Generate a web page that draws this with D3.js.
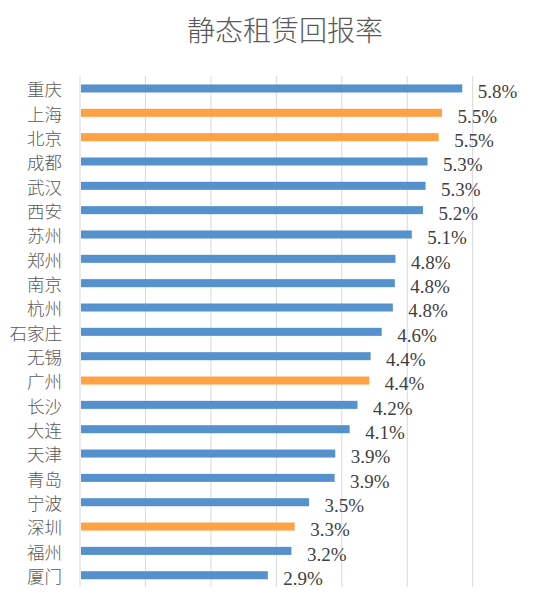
<!DOCTYPE html>
<html><head><meta charset="utf-8">
<script src="https://cdn.jsdelivr.net/npm/d3@7"></script>
<style>body{margin:0;background:#fff}</style>
</head><body><div id="chart"></div>
<script>
const title = "静态租赁回报率";
const cities = ["重庆","上海","北京","成都","武汉","西安","苏州","郑州","南京","杭州","石家庄","无锡","广州","长沙","大连","天津","青岛","宁波","深圳","福州","厦门"];
const values = [5.84,5.53,5.48,5.31,5.28,5.24,5.07,4.82,4.81,4.78,4.61,4.44,4.42,4.24,4.12,3.90,3.89,3.50,3.28,3.23,2.87];
const labels = ["5.8%","5.5%","5.5%","5.3%","5.3%","5.2%","5.1%","4.8%","4.8%","4.8%","4.6%","4.4%","4.4%","4.2%","4.1%","3.9%","3.9%","3.5%","3.3%","3.2%","2.9%"];
const highlighted = ["上海","北京","广州","深圳"];
const ticks = [0,1,2,3,4,5,6];

const W = 538, H = 604;
const svg = d3.select("#chart").append("svg").attr("width", W).attr("height", H);
const x = d3.scaleLinear().domain([0, 6]).range([80, 472.7]);
const y = d3.scaleBand().domain(cities).range([76.3, 587.4]).paddingInner(0.67).paddingOuter(0.335);

svg.append("text").attr("x", 285).attr("y", 40.5).attr("text-anchor", "middle")
  .attr("font-family", "Noto Sans CJK SC").attr("font-weight", 300).attr("font-size", 28)
  .attr("fill", "#595959").text(title);

svg.append("g").selectAll("line").data(ticks).join("line")
  .attr("x1", d => x(d)).attr("x2", d => x(d))
  .attr("y1", 76).attr("y2", 587)
  .attr("stroke", "#d9d9d9").attr("stroke-width", 1);

svg.append("g").selectAll("rect").data(cities).join("rect")
  .attr("x", x(0) + 1).attr("y", d => y(d))
  .attr("width", (d, i) => x(values[i]) - x(0) - 1)
  .attr("height", y.bandwidth())
  .attr("fill", d => highlighted.includes(d) ? "#FFA245" : "#5591CD");

svg.append("g").selectAll("text").data(cities).join("text")
  .attr("x", 62).attr("y", d => y(d) + y.bandwidth() / 2 + 1.5)
  .attr("dy", "0.36em").attr("text-anchor", "end")
  .attr("font-family", "Noto Sans CJK SC").attr("font-weight", 300).attr("font-size", 17.5)
  .attr("fill", "#595959").text(d => d);

svg.append("g").selectAll("text").data(cities).join("text")
  .attr("x", (d, i) => x(values[i]) + 15.5).attr("y", d => y(d) + y.bandwidth() / 2 + 9.8)
  .attr("font-family", "Liberation Serif").attr("font-size", 19)
  .attr("fill", "#404040").text((d, i) => labels[i]);
</script></body></html>
